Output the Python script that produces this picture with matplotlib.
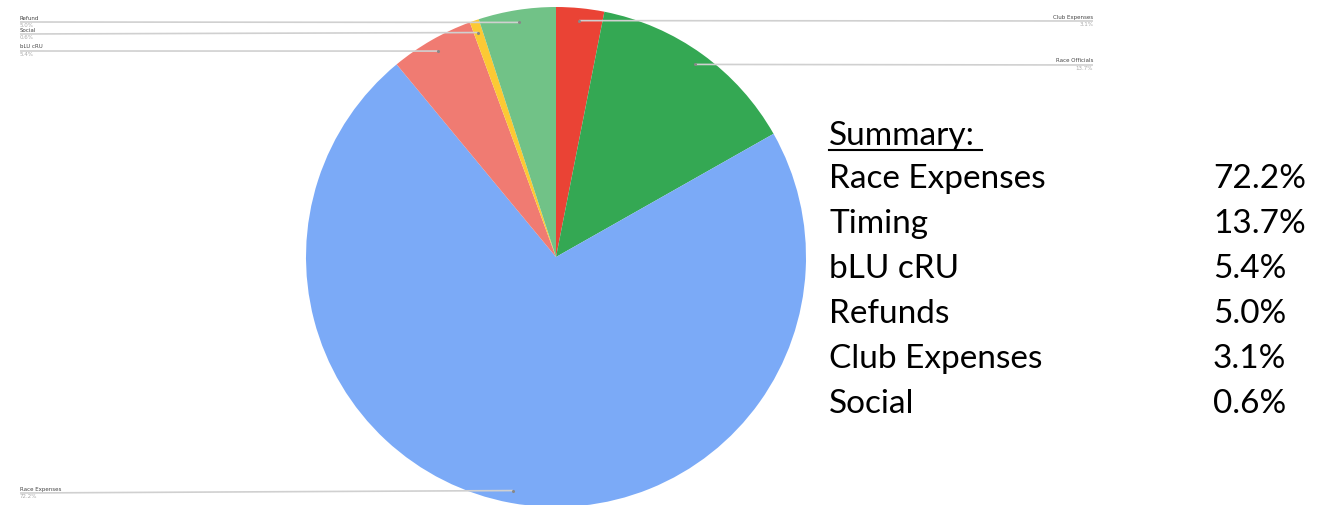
import numpy as np
import matplotlib.pyplot as plt

# pie slices, clockwise from 12 o'clock
slice_names = ['Club Expenses', 'Race Officials', 'Race Expenses', 'bLU cRU', 'Social', 'Refund']
slice_pcts = [3.1, 13.7, 72.2, 5.4, 0.6, 5.0]
slice_colors = ['#EA4335', '#34A853', '#7BAAF7', '#F07B72', '#FCC934', '#71C287']

# summary box on the right
summary_names = ['Race Expenses', 'Timing', 'bLU cRU', 'Refunds', 'Club Expenses', 'Social']
summary_pcts = [72.2, 13.7, 5.4, 5.0, 3.1, 0.6]

W, H = 1322, 505
fig = plt.figure(figsize=(W / 100, H / 100), dpi=100)
ax = fig.add_axes([0, 0, 1, 1])

cx, cy, R = 556, H - 257, 250
ax.pie(slice_pcts, colors=slice_colors, startangle=90, counterclock=False,
       center=(cx, cy), radius=R, wedgeprops=dict(linewidth=0))
ax.set_xlim(0, W)
ax.set_ylim(0, H)
ax.set_aspect('auto')
ax.axis('off')

# leader lines: (label side, label y in px from top)
label_side = {'Club Expenses': ('right', 21), 'Race Officials': ('right', 65),
              'Race Expenses': ('left', 493), 'bLU cRU': ('left', 51),
              'Social': ('left', 34), 'Refund': ('left', 22)}
cum = np.cumsum([0] + slice_pcts)
for i, name in enumerate(slice_names):
    mid = (cum[i] + slice_pcts[i] / 2) / 100 * 2 * np.pi
    px = cx + 0.95 * R * np.sin(mid)
    py = cy + 0.95 * R * np.cos(mid)
    side, ly = label_side[name]
    ly = H - ly
    if side == 'left':
        x0, ha = 20, 'left'
    else:
        x0, ha = 1093, 'right'
    ax.plot([x0, px], [ly, py], color='#d0d0d0', lw=1.2, solid_capstyle='butt', zorder=3)
    ax.plot([px], [py], 'o', color='#888888', ms=1.2, zorder=4)
    ax.text(x0, ly + 1.5, name, fontsize=4, color='#444444', ha=ha, va='bottom')
    ax.text(x0, ly - 1, f'{slice_pcts[i]:.1f}%', fontsize=4, color='#aaaaaa', ha=ha, va='top')

# summary text
font = 'Lato'
fs = 24
ax.text(829, H - 145, 'Summary:', fontsize=fs, family=font, color='black', ha='left', va='baseline')
ax.plot([829, 982], [H - 150, H - 150], color='black', lw=1.5)
for j, (n, p) in enumerate(zip(summary_names, summary_pcts)):
    yb = H - (188 + 45 * j)
    ax.text(829, yb, n, fontsize=fs, family=font, color='black', ha='left', va='baseline')
    ax.text(1213, yb, f'{p:.1f}%', fontsize=fs, family=font, color='black', ha='left', va='baseline')

fig.savefig('out.png', dpi=100)
